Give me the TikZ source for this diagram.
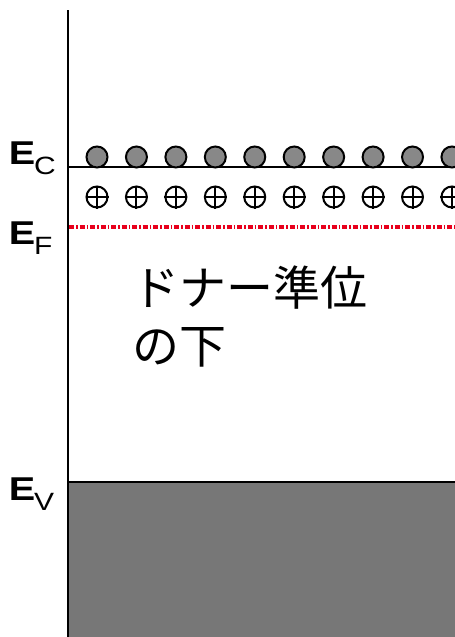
\documentclass[tikz,border=0pt]{standalone}
\usepackage{fontspec}
\setmainfont{Liberation Sans}
\newfontfamily\jpfont{Noto Sans CJK JP}
\definecolor{elgray}{HTML}{888888}
\definecolor{bandgray}{HTML}{777777}
\definecolor{fermired}{HTML}{E8001C}
\newcommand{\elabel}[1]{\scalebox{1.2}[1]{{\fontsize{33}{33}\selectfont\bfseries E}\kern-1pt\raisebox{-10.5pt}{\fontsize{25}{25}\selectfont #1}}}
\tikzset{
  axisline/.style={line width=2.5pt, black},
  levelline/.style={line width=2pt, black},
  electron/.style={circle, draw=black, fill=elgray, line width=2pt, minimum size=21pt, inner sep=0pt},
  donor/.style={circle, draw=black, line width=2pt, minimum size=21pt, inner sep=0pt},
  fermiline/.style={line width=3.2pt, fermired, dash pattern=on 5pt off 2pt on 1.5pt off 2pt},
  elab/.style={anchor=base west, inner sep=0pt},
}
\begin{document}
\begin{tikzpicture}[x=1pt,y=1pt]
\useasboundingbox (0,0) rectangle (455,-637);
\begin{scope}
\clip (0,0) rectangle (455,-637);
% valence band
\fill[bandgray] (68,-482) rectangle (456,-640);
\draw[levelline] (68,-482) -- (456,-482);
% conduction band edge
\draw[levelline] (68,-167) -- (456,-167);
% Fermi level
\draw[fermiline] (69,-227) -- (456,-227);
% electrons and donors
\foreach \i in {0,...,9} {
  \node[electron] (e\i) at ({97+39.44*\i},-157) {};
  \node[donor] (d\i) at ({97+39.44*\i},-197) {};
  \draw[line width=2pt] (d\i.north) -- (d\i.south);
  \draw[line width=2pt] (d\i.west) -- (d\i.east);
}
% axis
\draw[axisline] (68,-10) -- (68,-640);
\end{scope}
% labels
\node[elab] (ec) at (8.8,-164) {\elabel{C}};
\node[elab] (ef) at (8.8,-244) {\elabel{F}};
\node[elab] (ev) at (8.8,-500) {\elabel{V}};
\node[anchor=base west, inner sep=0pt, align=left, font=\jpfont\fontsize{47}{58}\selectfont] (txt) at (132,-363) {ドナー準位\\の下};
\end{tikzpicture}
\end{document}
